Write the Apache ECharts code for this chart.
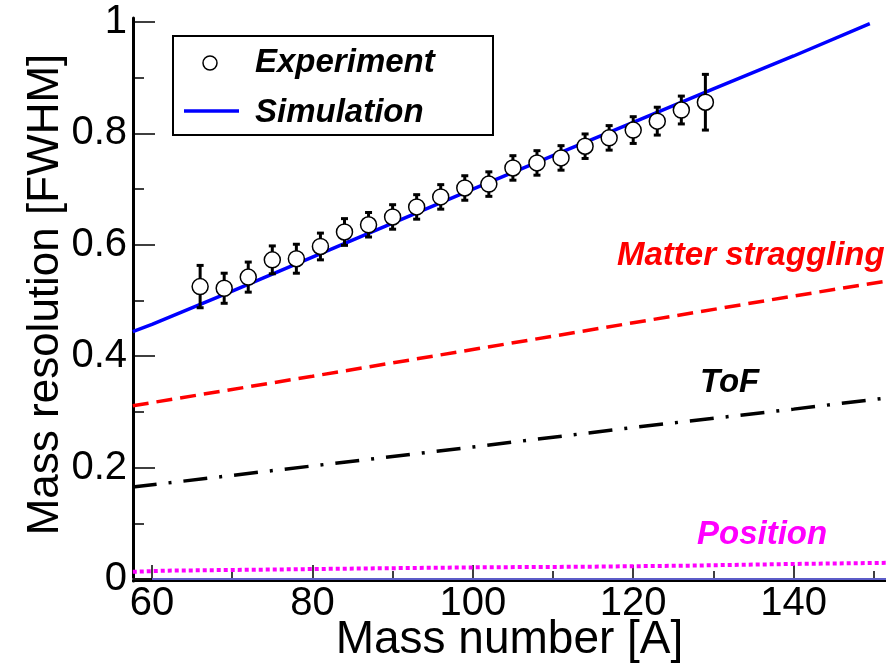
<!DOCTYPE html>
<html><head><meta charset="utf-8">
<script src="https://cdn.jsdelivr.net/npm/echarts@6/dist/echarts.min.js"></script>
<style>html,body{margin:0;padding:0;background:#fff}#c{width:886px;height:663px}</style>
</head><body><div id="c"></div>
<script>
// ---- data ----
const xTickLabels = [60, 80, 100, 120, 140];
const xMinorTicks = [70, 90, 110, 130, 150];
const yTickLabels = [0, 0.2, 0.4, 0.6, 0.8, 1];
const yMinorTicks = [0.1, 0.3, 0.5, 0.7, 0.9];

const expA   = [66, 69, 72, 75, 78, 81, 84, 87, 90, 93, 96, 99, 102, 105, 108, 111, 114, 117, 120, 123, 126, 129];
const expVal = [0.525, 0.522, 0.542, 0.573, 0.575, 0.597, 0.623, 0.636, 0.650, 0.668, 0.686, 0.702, 0.709, 0.738, 0.747, 0.756, 0.777, 0.792, 0.806, 0.822, 0.842, 0.856];
const expErr = [0.038, 0.027, 0.027, 0.025, 0.026, 0.024, 0.024, 0.022, 0.022, 0.022, 0.022, 0.022, 0.022, 0.022, 0.022, 0.022, 0.022, 0.022, 0.024, 0.025, 0.025, 0.050];

const simA   = [57.6, 60, 70, 80, 90, 100, 110, 120, 130, 140, 149.5];
const simVal = [0.444, 0.457, 0.517, 0.578, 0.639, 0.700, 0.760, 0.820, 0.880, 0.939, 0.997];

const matA   = [57.6, 80, 100, 120, 140, 151.6];
const matVal = [0.311, 0.364, 0.412, 0.460, 0.508, 0.535];

const tofA   = [57.6, 80, 100, 120, 140, 151.6];
const tofVal = [0.165, 0.203, 0.237, 0.272, 0.305, 0.325];

const posA   = [57.6, 62, 75, 87, 101, 114, 127, 140, 151.6];
const posVal = [0.013, 0.015, 0.017, 0.019, 0.021, 0.022, 0.024, 0.027, 0.029];

const zeroA = [60, 151.6];
const zeroVal = [0, 0];

// ---- chart ----
const FONT = '"Liberation Sans", Arial, Helvetica, sans-serif';
const XMIN = 57.63, XMAX = 151.52, YMIN = -0.0036, YMAX = 1.0072;
const zip = (a, b) => a.map((v, i) => [v, b[i]]);

const chart = echarts.init(document.getElementById('c'), null, {renderer: 'canvas'});

const gridCfg = {left: 133, right: 0, top: 18, bottom: 82, containLabel: false, outerBoundsMode: 'none'};

const option = {
  animation: false,
  backgroundColor: '#fff',
  grid: [gridCfg],
  xAxis: [{
    type: 'value', min: XMIN, max: XMAX,
    axisLine: {show: true, onZero: false, lineStyle: {color: '#000', width: 2}},
    axisTick: {show: true, inside: true, length: 16, customValues: xTickLabels, lineStyle: {color: '#000', width: 1.5}},
    axisLabel: {show: true, customValues: xTickLabels, color: '#000', fontFamily: FONT, fontSize: 40, margin: 3},
    splitLine: {show: false},
    name: 'Mass number [A]', nameLocation: 'middle', nameGap: 36, nameMoveOverlap: false,
    nameTextStyle: {color: '#000', fontFamily: FONT, fontSize: 46}
  }, {
    type: 'value', min: XMIN, max: XMAX, position: 'bottom', gridIndex: 0,
    axisLine: {show: false},
    axisTick: {show: true, inside: true, length: 8, customValues: xMinorTicks, lineStyle: {color: '#000', width: 1.5}},
    axisLabel: {show: false}, splitLine: {show: false}
  }, {
    type: 'value', min: XMIN, max: XMAX, position: 'top', gridIndex: 0,
    axisLine: {show: true, lineStyle: {color: '#666', width: 2}},
    axisTick: {show: false}, axisLabel: {show: false}, splitLine: {show: false}
  }],
  yAxis: [{
    type: 'value', min: YMIN, max: YMAX,
    axisLine: {show: true, onZero: false, lineStyle: {color: '#000', width: 3}},
    axisTick: {show: true, inside: true, length: 22, customValues: yTickLabels, lineStyle: {color: '#000', width: 1.5}},
    axisLabel: {show: true, customValues: yTickLabels, color: '#000', fontFamily: FONT, fontSize: 40, margin: 6},
    splitLine: {show: false},
    name: 'Mass resolution [FWHM]', nameLocation: 'middle', nameGap: 65, nameRotate: 90, nameMoveOverlap: false,
    nameTextStyle: {color: '#000', fontFamily: FONT, fontSize: 44, padding: [0, 0, 0, 10]}
  }, {
    type: 'value', min: YMIN, max: YMAX, position: 'left', gridIndex: 0,
    axisLine: {show: false},
    axisTick: {show: true, inside: true, length: 11, customValues: yMinorTicks, lineStyle: {color: '#000', width: 1.5}},
    axisLabel: {show: false}, splitLine: {show: false}
  }],
  series: [
    {type: 'line', data: zip(zeroA, zeroVal), symbol: 'none', lineStyle: {color: '#5c5cc8', width: 2}, z: 3},
    {type: 'line', data: zip(posA, posVal), symbol: 'none', lineStyle: {color: '#ff00ff', width: 4, type: [4, 3]}},
    {type: 'line', data: zip(tofA, tofVal), symbol: 'none', lineStyle: {color: '#000', width: 3.5, type: [24, 12, 3, 12]}},
    {type: 'line', data: zip(matA, matVal), symbol: 'none', lineStyle: {color: '#ff0000', width: 3.5, type: [16, 8]}},
    {type: 'line', data: zip(simA, simVal), symbol: 'none', lineStyle: {color: '#0000ff', width: 3.5}, z: 4},
    {
      type: 'custom', z: 5,
      data: expA.map((a, i) => [a, expVal[i], expErr[i]]),
      renderItem: function (params, api) {
        const x = api.value(0), y = api.value(1), e = api.value(2);
        const c = api.coord([x, y]);
        const top = api.coord([x, y + e]);
        const bot = api.coord([x, y - e]);
        const r = 8, cap = 3.5;
        const st = {stroke: '#000', lineWidth: 3};
        return {
          type: 'group',
          children: [
            {type: 'line', shape: {x1: c[0], y1: top[1], x2: c[0], y2: bot[1]}, style: st},
            {type: 'line', shape: {x1: c[0] - cap, y1: top[1], x2: c[0] + cap, y2: top[1]}, style: st},
            {type: 'line', shape: {x1: c[0] - cap, y1: bot[1], x2: c[0] + cap, y2: bot[1]}, style: st},
            {type: 'circle', shape: {cx: c[0], cy: c[1], r: r}, style: {fill: '#fff', stroke: '#000', lineWidth: 1.5}}
          ]
        };
      }
    }
  ],
  graphic: [
    {type: 'rect', shape: {x: 173, y: 36, width: 320, height: 99}, style: {fill: '#fff', stroke: '#000', lineWidth: 2}, z: 10},
    {type: 'circle', shape: {cx: 210, cy: 63, r: 7}, style: {fill: '#fff', stroke: '#000', lineWidth: 1.5}, z: 11},
    {type: 'line', shape: {x1: 184, y1: 111, x2: 239, y2: 111}, style: {stroke: '#0000ff', lineWidth: 3.5}, z: 11},
    {type: 'text', x: 255, y: 63, style: {text: 'Experiment', fill: '#000', font: 'italic bold 33px ' + FONT, textVerticalAlign: 'middle'}, z: 11},
    {type: 'text', x: 255, y: 113, style: {text: 'Simulation', fill: '#000', font: 'italic bold 33px ' + FONT, textVerticalAlign: 'middle'}, z: 11},
    {type: 'text', x: 617, y: 256, style: {text: 'Matter straggling', fill: '#ff0000', font: 'italic bold 33px ' + FONT, textVerticalAlign: 'middle'}, z: 11},
    {type: 'text', x: 700, y: 383, style: {text: 'ToF', fill: '#000', font: 'italic bold 33px ' + FONT, textVerticalAlign: 'middle'}, z: 11},
    {type: 'text', x: 697, y: 535, style: {text: 'Position', fill: '#ff00ff', font: 'italic bold 33px ' + FONT, textVerticalAlign: 'middle'}, z: 11}
  ]
};
chart.setOption(option);
</script>
</body></html>
